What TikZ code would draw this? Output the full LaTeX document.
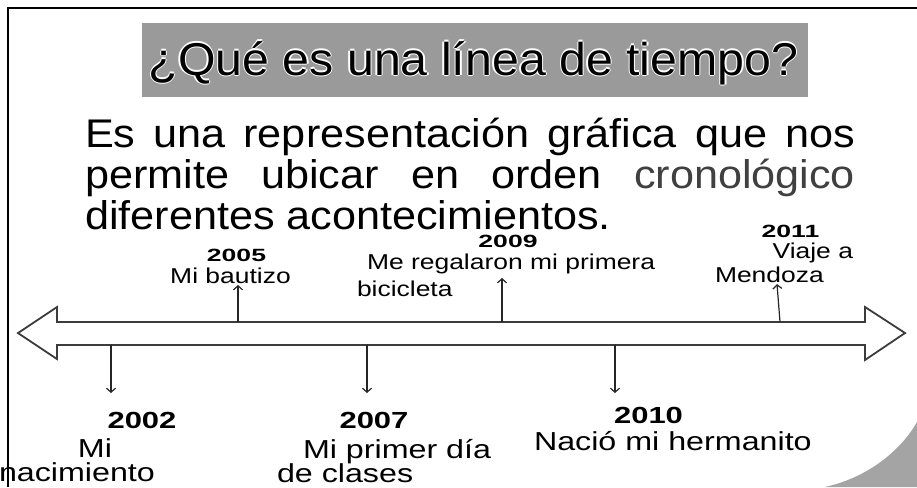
\documentclass[tikz,border=0pt]{standalone}
\usepackage{fontspec}
\setmainfont{Liberation Sans}
\newfontfamily\titlefont[FakeStretch=1.05]{Liberation Sans}
\newfontfamily\parafont[FakeStretch=1.08]{Liberation Sans}
\newfontfamily\toplblfont[FakeStretch=1.23]{Liberation Sans}
\newfontfamily\botlblfont[FakeStretch=1.24]{Liberation Sans}
\newfontfamily\topyrfont[FakeStretch=1.5]{Liberation Sans}
\newfontfamily\botyrfont[FakeStretch=1.33]{Liberation Sans}
\usetikzlibrary{arrows.meta}
\definecolor{titlegray}{HTML}{9A9A9A}
\definecolor{linegray}{HTML}{3C3C3C}
\definecolor{cronogray}{HTML}{404040}
\definecolor{swoosh}{HTML}{A4A4A4}
\newcommand{\halotext}[1]{\leavevmode
  \rlap{\color{white}\kern1.3pt#1}\rlap{\color{white}\kern-1.3pt#1}%
  \rlap{\color{white}\raisebox{1.3pt}{#1}}\rlap{\color{white}\raisebox{-1.3pt}{#1}}#1}
\tikzset{
  txt/.style={inner sep=0pt, outer sep=0pt, text=black},
  titlestyle/.style={txt, font=\titlefont\fontsize{46}{50}\selectfont},
  parastyle/.style={txt, anchor=base west, font=\parafont\fontsize{40}{41}\selectfont},
  topyr/.style={txt, anchor=base, font=\topyrfont\bfseries\fontsize{17.7}{20}\selectfont},
  toplbl/.style={txt, font=\toplblfont\fontsize{21.5}{24}\selectfont},
  botyr/.style={txt, anchor=base, font=\botyrfont\bfseries\fontsize{23.3}{26}\selectfont},
  botlbl/.style={txt, font=\botlblfont\fontsize{26}{29}\selectfont},
  shaft/.style={draw=linegray, line width=1.8pt, fill=white, line join=miter},
  tick/.style={draw=black!85, line width=1.2pt, -{Straight Barb[length=4pt,width=9pt,line width=1.2pt]}},
  frame/.style={draw=black, line width=2.2pt},
}
\begin{document}
\begin{tikzpicture}[x=1pt,y=-1pt]
\useasboundingbox (0,0) rectangle (917,487);
\fill[white] (0,0) rectangle (917,487);
% decorative swoosh bottom right
\fill[swoosh] (825,487) .. controls (866,478) and (900,452) .. (917,422) -- (917,487) -- cycle;
% frame
\draw[frame] (8,487) -- (8,8) -- (917,8);
% title
\node[fill=titlegray, minimum width=666pt, minimum height=74pt, inner sep=0pt] (titlebox) at (475,60) {};
\node[titlestyle, anchor=base] (title) at (473.5,75) {\halotext{¿Qué es una línea de tiempo?}};
% paragraph
\node[parastyle] (p1) at (85,147) {\makebox[770pt][s]{Es una representación gráfica que nos}};
\node[parastyle] (p2) at (85,188) {\makebox[770pt][s]{permite ubicar en orden {\color{cronogray}cronológico}}};
\node[parastyle] (p3) at (85,229) {diferentes acontecimientos.};
% timeline shaft
\draw[shaft] (18,333) -- (57,307) -- (57,322) -- (865,322) -- (865,307) -- (905,333)
  -- (865,360) -- (865,345) -- (57,345) -- (57,359) -- cycle;
% anchor points on the shaft and arrow ends
\coordinate (s2005) at (238,322); \coordinate (e2005) at (238,285);
\coordinate (s2009) at (502,322); \coordinate (e2009) at (502,278);
\coordinate (s2011) at (780,322); \coordinate (e2011) at (777,284);
\coordinate (s2002) at (111,345); \coordinate (e2002) at (111,393);
\coordinate (s2007) at (367,345); \coordinate (e2007) at (367,393);
\coordinate (s2010) at (615,345); \coordinate (e2010) at (615,393);
% top labels
\node[topyr] (y2005) at (236.5,261) {2005};
\node[toplbl, anchor=base] (l2005) at (230.5,283) {Mi bautizo};
\node[topyr] (y2009) at (508,247) {2009};
\node[toplbl, anchor=base west] (l2009a) at (367,269) {Me regalaron mi primera};
\node[toplbl, anchor=base west] (l2009b) at (357,296) {bicicleta};
\node[topyr] (y2011) at (790.5,237) {2011};
\node[toplbl, anchor=base east] (l2011a) at (853,258) {Viaje a};
\node[toplbl, anchor=base west] (l2011b) at (715,282) {Mendoza};
% bottom labels
\node[botyr] (y2002) at (142,428) {2002};
\node[botlbl, anchor=base] (l2002a) at (95,457) {Mi};
\node[botlbl, anchor=base west] (l2002b) at (-1,481) {nacimiento};
\node[botyr] (y2007) at (374,428) {2007};
\node[botlbl, anchor=base west] (l2007a) at (303,458) {Mi primer día};
\node[botlbl, anchor=base west] (l2007b) at (277,482) {de clases};
\node[botyr] (y2010) at (648.5,423) {2010};
\node[botlbl, anchor=base west] (l2010) at (534,450) {Nació mi hermanito};
% tick arrows
\draw[tick] (s2005) -- (e2005);
\draw[tick] (s2009) -- (e2009);
\draw[tick] (s2011) -- (e2011);
\draw[tick] (s2002) -- (e2002);
\draw[tick] (s2007) -- (e2007);
\draw[tick] (s2010) -- (e2010);
\end{tikzpicture}
\end{document}
